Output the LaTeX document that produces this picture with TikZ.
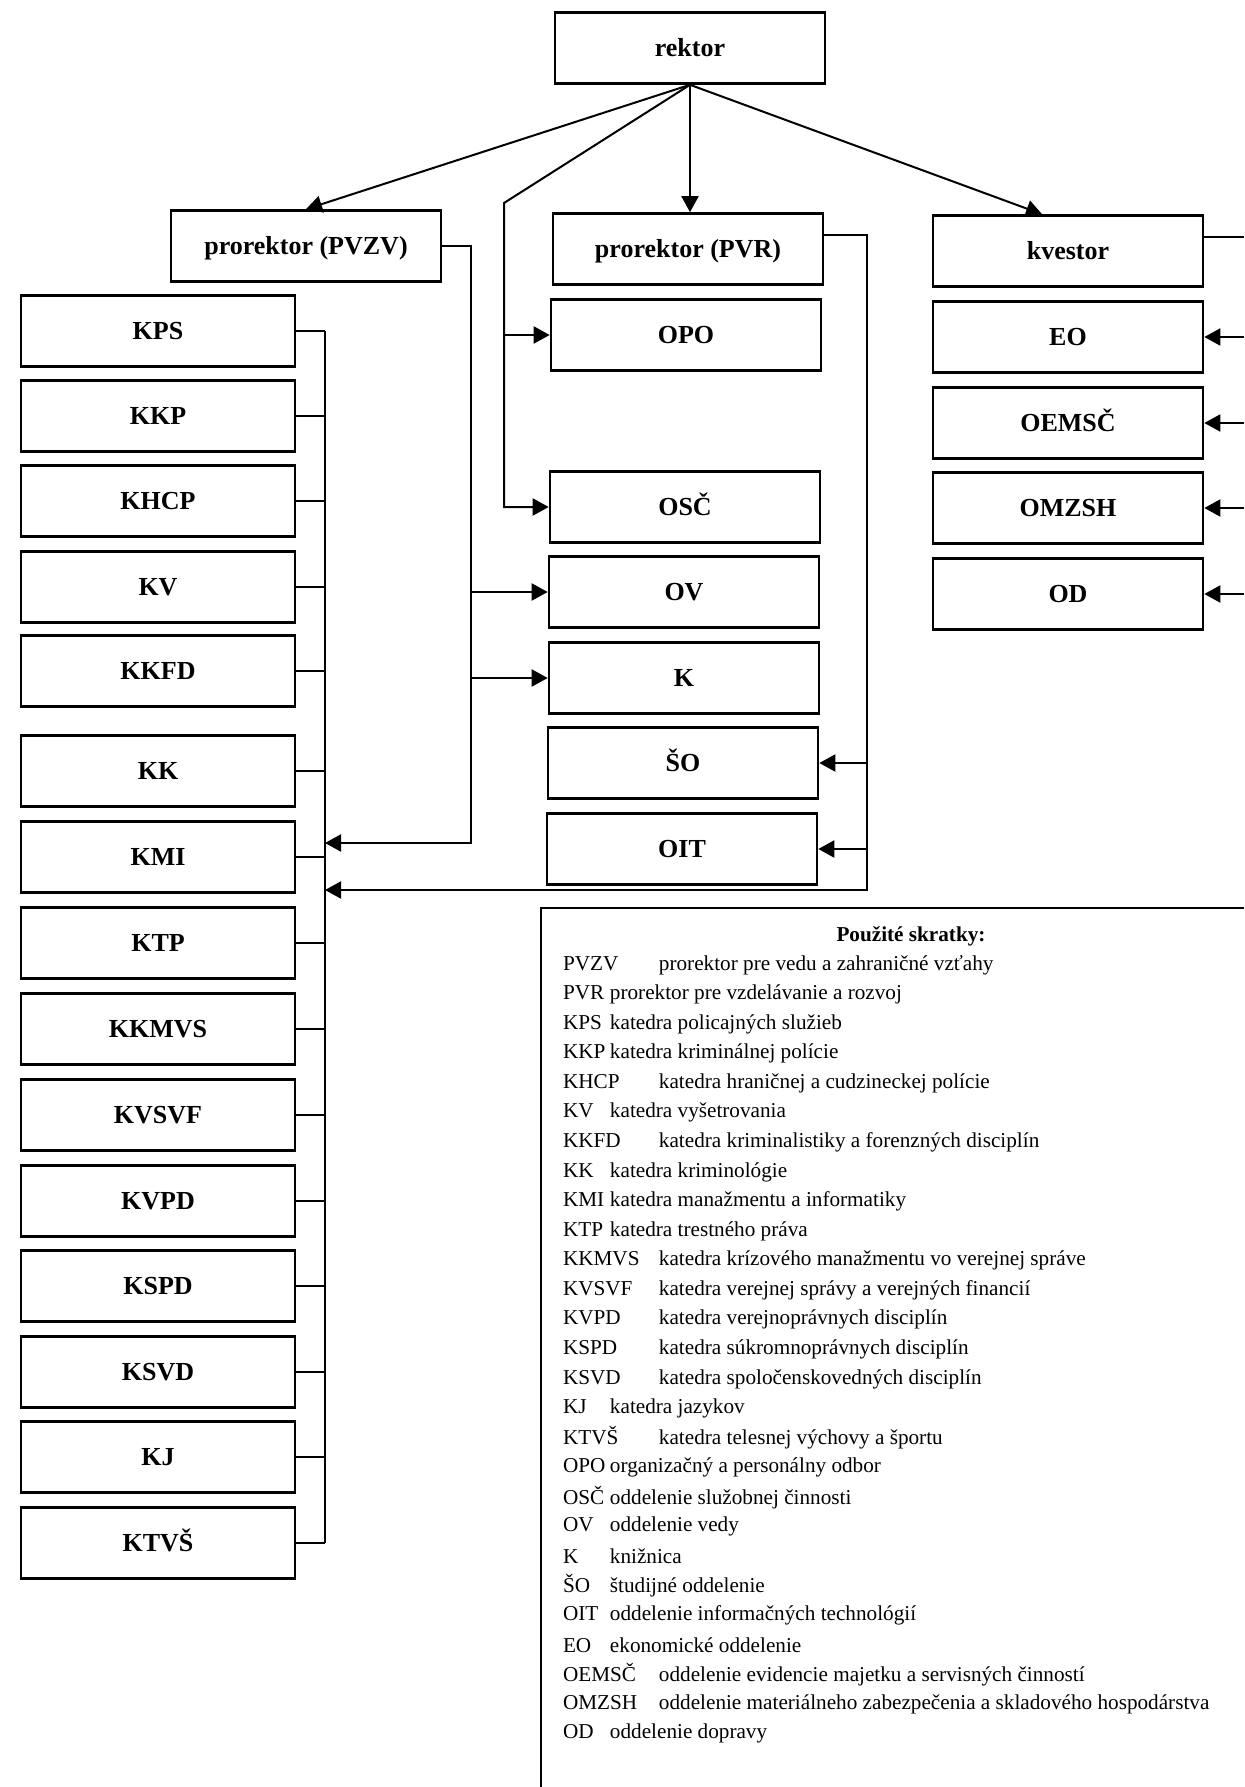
\documentclass[tikz,border=0pt]{standalone}
\usepackage{fontspec}
\setmainfont{Liberation Serif}
\usetikzlibrary{arrows.meta}

\begin{document}
\begin{tikzpicture}[x=0.5pt, y=-0.5pt, line width=1pt, >={Triangle[length=8pt,width=8.5pt]},
  unit/.style={draw, line width=1.3pt, minimum width=135pt, minimum height=35.5pt, inner sep=0pt,
    text height=8.6pt, text depth=0pt, font=\fontsize{13}{15}\selectfont\bfseries},
  dept/.style={unit, minimum width=137pt},
  abbrev/.style={anchor=west, inner sep=0pt, font=\fontsize{10.6}{12}\selectfont}]
\useasboundingbox (0,0) rectangle (1244,1787);
% vedenie
\node[unit] (rektor) at (690,48) {rektor};
\node[unit] (pvzv) at (306,246) {prorektor (PVZV)};
\node[unit] (pvr) at (688,249) {prorektor (PVR)};
\node[unit] (kvestor) at (1068,251) {kvestor};
% katedry
\node[dept] (kps) at (158,331) {KPS};
\node[dept] (kkp) at (158,416) {KKP};
\node[dept] (khcp) at (158,501) {KHCP};
\node[dept] (kv) at (158,587) {KV};
\node[dept] (kkfd) at (158,671) {KKFD};
\node[dept] (kk) at (158,771) {KK};
\node[dept] (kmi) at (158,857) {KMI};
\node[dept] (ktp) at (158,943) {KTP};
\node[dept] (kkmvs) at (158,1029) {KKMVS};
\node[dept] (kvsvf) at (158,1115) {KVSVF};
\node[dept] (kvpd) at (158,1201) {KVPD};
\node[dept] (kspd) at (158,1286) {KSPD};
\node[dept] (ksvd) at (158,1372) {KSVD};
\node[dept] (kj) at (158,1457) {KJ};
\node[dept] (ktvs) at (158,1543) {KTVŠ};
% oddelenia
\node[unit] (opo) at (686,335) {OPO};
\node[unit] (osc) at (685,507) {OSČ};
\node[unit] (ov) at (684,592) {OV};
\node[unit] (k) at (684,678) {K};
\node[unit] (so) at (683,763) {ŠO};
\node[unit] (oit) at (682,849) {OIT};
\node[unit] (eo) at (1068,337) {EO};
\node[unit] (oemsc) at (1068,423) {OEMSČ};
\node[unit] (omzsh) at (1068,508) {OMZSH};
\node[unit] (od) at (1068,594) {OD};
% spojnice
\coordinate (bus) at (325,331);
\coordinate (rbend) at (504,203);
\coordinate (pvzvbus) at (471,843);
\coordinate (pvrbus) at (867,890);
\coordinate (kedge) at (1244,237);
\draw[->] (rektor.south) -- (pvzv.north);
\draw[->] (rektor.south) -- (rektor.south |- pvr.north);
\draw[->] (rektor.south) -- ([xshift=-13pt]kvestor.north);
\draw[->] (rektor.south) -- (rbend) |- (osc.west);
\draw[->] (opo.west -| rbend) -- (opo.west);
\draw[->] (pvzv.east) -| (pvzvbus) -- (pvzvbus -| bus);
\draw[->] (ov.west -| pvzvbus) -- (ov.west);
\draw[->] (k.west -| pvzvbus) -- (k.west);
\draw[->] ([yshift=7pt]pvr.east) -| (pvrbus) -- (pvrbus -| bus);
\draw[->] (so.east -| pvrbus) -- (so.east);
\draw[->] (oit.east -| pvrbus) -- (oit.east);
\draw ([yshift=7pt]kvestor.east) -- (kedge);
\foreach \n in {eo,oemsc,omzsh,od}
  \draw[->] (\n.east -| kedge) -- (\n.east);
\draw (bus) -- (bus |- ktvs.east);
\foreach \n in {kps,kkp,khcp,kv,kkfd,kk,kmi,ktp,kkmvs,kvsvf,kvpd,kspd,ksvd,kj,ktvs}
  \draw (\n.east) -- (\n.east -| bus);
% skratky
\draw[line width=1.3pt] (541,1787) -- (541,908) -- (1244,908);
\node[font=\fontsize{10.6}{12}\selectfont\bfseries] (title) at (911,936) {Použité skratky:};
\foreach \ab/\tx/\tb [count=\i] in {
  PVZV/prorektor pre vedu a zahraničné vzťahy/48pt,
  PVR/prorektor pre vzdelávanie a rozvoj/23.5pt,
  KPS/katedra policajných služieb/23.5pt,
  KKP/katedra kriminálnej polície/23.5pt,
  KHCP/katedra hraničnej a cudzineckej polície/48pt,
  KV/katedra vyšetrovania/23.5pt,
  KKFD/katedra kriminalistiky a forenzných disciplín/48pt,
  KK/katedra kriminológie/23.5pt,
  KMI/katedra manažmentu a informatiky/23.5pt,
  KTP/katedra trestného práva/23.5pt,
  KKMVS/katedra krízového manažmentu vo verejnej správe/48pt,
  KVSVF/katedra verejnej správy a verejných financií/48pt,
  KVPD/katedra verejnoprávnych disciplín/48pt,
  KSPD/katedra súkromnoprávnych disciplín/48pt,
  KSVD/katedra spoločenskovedných disciplín/48pt,
  KJ/katedra jazykov/23.5pt,
  KTVŠ/katedra telesnej výchovy a športu/48pt,
  OPO/organizačný a personálny odbor/23.5pt,
  OSČ/oddelenie služobnej činnosti/23.5pt,
  OV/oddelenie vedy/23.5pt,
  K/knižnica/23.5pt,
  ŠO/študijné oddelenie/23.5pt,
  OIT/oddelenie informačných technológií/23.5pt,
  EO/ekonomické oddelenie/23.5pt,
  OEMSČ/oddelenie evidencie majetku a servisných činností/48pt,
  OMZSH/oddelenie materiálneho zabezpečenia a skladového hospodárstva/48pt,
  OD/oddelenie dopravy/23.5pt}
  \node[abbrev] (row\i) at (562,{965+(\i-1)*29.57}) {\makebox[\tb][l]{\ab}\tx};
\end{tikzpicture}
\end{document}
